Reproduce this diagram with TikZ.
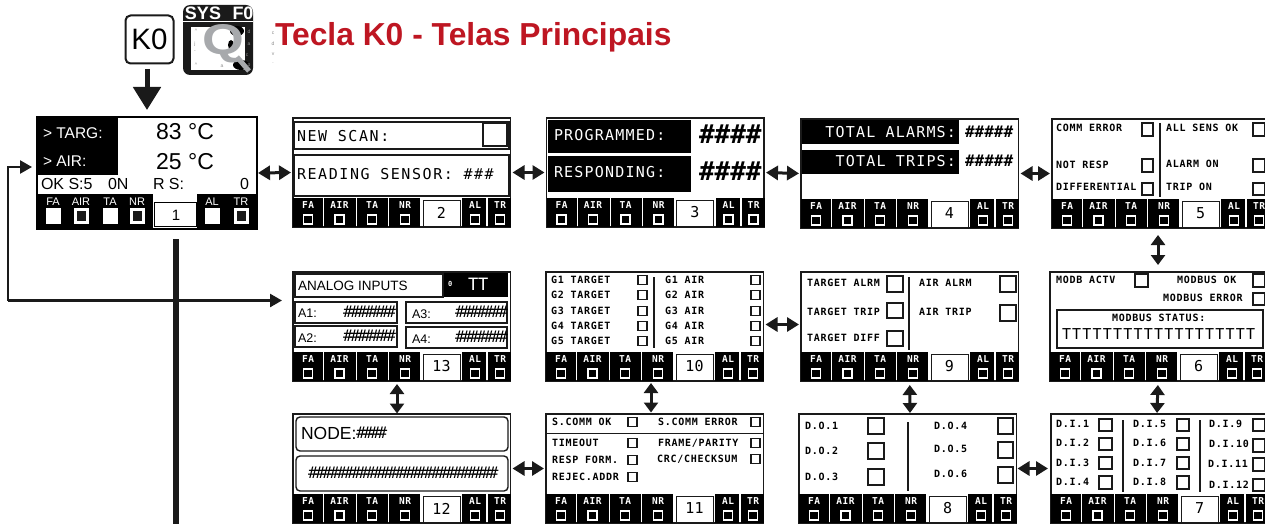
\documentclass[tikz,border=0pt]{standalone}
\usepackage{fontspec}
\setmainfont{Liberation Sans}
\newfontfamily\pixs{DejaVu Sans Mono}[LetterSpace=7.5]
\newfontfamily\pixb{DejaVu Sans Mono}[LetterSpace=6]
\newfontfamily\pixl{DejaVu Sans Mono}[LetterSpace=8]
\newfontfamily\pixw{DejaVu Sans Mono}[LetterSpace=10.5]
\newfontfamily\pixt{DejaVu Sans Mono}[LetterSpace=-15]
\newfontfamily\pixn{DejaVu Sans Mono}
\usetikzlibrary{arrows.meta}
\definecolor{ink}{HTML}{1A1A1A}
\definecolor{titlered}{HTML}{BE1622}
\definecolor{qgrey}{HTML}{A7A9AC}
\newcounter{lb}
\tikzset{
  panel/.style={draw=ink,line width=1.5pt,fill=white,inner sep=0pt,outer sep=0pt,anchor=north west,minimum width=217.5pt,minimum height=109pt},
  txt/.style={inner sep=0pt,outer sep=0pt,text=black},
  small/.style={txt,anchor=west,font=\pixs\bfseries\fontsize{10}{11}\selectfont},
  large/.style={txt,anchor=west,font=\pixl\fontsize{15}{16}\selectfont},
  barlab/.style={txt,text=white,font=\pixb\bfseries\fontsize{9.5}{10}\selectfont},
  numlab/.style={txt,font=\pixn\fontsize{15}{16}\selectfont},
  tight/.style={txt,anchor=west,font=\pixt\fontsize{16}{17}\selectfont},
  sans/.style={txt,anchor=west},
  tiny/.style={txt,text=black!45,font=\fontsize{5}{5}\selectfont},
  chk/.style={draw=ink,line width=1.3pt},
  divider/.style={draw=ink,line width=1.6pt},
  frame/.style={draw=ink,line width=1.4pt,fill=white},
  dbl/.style={draw=ink,line width=3pt,{Triangle[length=12pt,width=14pt]}-{Triangle[length=12pt,width=14pt]},shorten <=2pt,shorten >=2pt},
  dblv/.style={draw=ink,line width=3pt,{Triangle[length=10pt,width=14pt]}-{Triangle[length=10pt,width=14pt]}},
  feed/.style={draw=ink,line width=2.5pt,-{Triangle[length=12pt,width=13pt]}},
}
\newcommand\lab[3][small]{\stepcounter{lb}\node[#1] (lb\arabic{lb}) at (#2) {#3};}
\newcommand\cbx[4]{\draw[chk] (#1,#2) rectangle (#3,#4);}
% name, left, top, number
\newcommand\screen[4]{%
  \node[panel] (#1) at (#2,#3) {};
  \foreach \a/\b/\t/\c in {0/30/FA/15,31/63/AIR/46.5,64/95/TA/79,96/127/NR/112,169/193/AL/182,195/218/TR/207}{
    \fill[black] (#2+\a,#3+80) rectangle (#2+\b,#3+109);
    \lab[barlab]{#2+\c,#3+87.5}{\t}
    \draw[white,line width=1.1pt,fill=black] (#2+\c-4.5,#3+97) rectangle (#2+\c+4.5,#3+106);
  }
  \draw[draw=ink,line width=1pt,fill=white] (#2+130,#3+82) rectangle (#2+167,#3+108);
  \lab[numlab]{#2+148.5,#3+94.5}{#4}
}
\begin{document}
\begin{tikzpicture}[x=1pt,y=-1pt]
\useasboundingbox (0,0) rectangle (1265,524);
\fill[white] (0,0) rectangle (1265,524);

% title and key
\node[txt,anchor=west,text=titlered,font=\bfseries\fontsize{31.8}{32}\selectfont] (title) at (275,37) {Tecla K0 - Telas Principais};
\node[draw=ink,line width=2pt,rounded corners=5pt,fill=white,minimum width=48pt,minimum height=48pt,inner sep=0pt,font=\fontsize{29.5}{30}\selectfont] (k0) at (149.5,39.5) {K0};
% icon
\fill[ink,rounded corners=7pt] (183,5) rectangle (253,75);
\draw[white,line width=1pt] (183,22) -- (253,22);
\lab[{txt,text=white,font=\bfseries\fontsize{18}{18}\selectfont}]{203,13}{SYS}
\lab[{txt,text=white,font=\bfseries\fontsize{18}{18}\selectfont}]{243,13}{F0}
\fill[white] (191,27) rectangle (245,70);
\fill[black] (237,31) ellipse (7 and 5);
\fill[black] (231,45) ellipse (3 and 5);
\fill[black] (241,65) ellipse (8 and 5);
\lab[{txt,text=qgrey,xscale=1.25,font=\bfseries\fontsize{43}{43}\selectfont}]{223,44}{Q}
\draw[qgrey,line width=5pt] (237,57) -- (249,71);
\lab[tiny]{196,31}{\^{}}\lab[tiny]{195,44}{j}\lab[tiny]{195,52}{-}\lab[tiny]{196,65}{\^{}}\lab[tiny]{222,66}{a}
\lab[tiny]{249,32}{d}\lab[tiny]{249,44}{a}\lab[tiny]{247,55}{c}\lab[tiny]{249,66}{p}
\lab[tiny]{273,33}{c}\lab[tiny]{273,44}{d}\lab[tiny]{273,54}{v}\lab[tiny]{273,63}{.}

% screen 1
\node[panel,draw=black,line width=2pt,minimum width=220pt,minimum height=112pt] (p1) at (37,117) {};
\fill[black] (37,117) rectangle (118,175);
\fill[black] (37,194) rectangle (153,229.5);
\fill[black] (197,194) rectangle (257,229.5);
\lab[{sans,text=white,font=\fontsize{15.5}{16}\selectfont}]{43,133}{> TARG:}
\lab[{sans,text=white,font=\fontsize{15.5}{16}\selectfont}]{43,161}{> AIR:}
\lab[{txt,font=\fontsize{23}{24}\selectfont}]{185,132}{83 °C}
\lab[{txt,font=\fontsize{23}{24}\selectfont}]{185,162}{25 °C}
\lab[{sans,font=\fontsize{16}{17}\selectfont}]{41,184}{OK S:5}
\lab[{sans,font=\fontsize{16}{17}\selectfont}]{108,184}{0N}
\lab[{sans,font=\fontsize{16}{17}\selectfont}]{153,184}{R S:}
\lab[{sans,font=\fontsize{16}{17}\selectfont}]{240,184}{0}
\foreach \c/\t/\d in {53/FA/0,81/AIR/1,110/TA/0,137/NR/1,212/AL/0,241/TR/1}{
  \lab[{txt,text=white,font=\fontsize{11}{12}\selectfont}]{\c,202}{\t}
  \fill[white] (\c-7.5,208) rectangle (\c+7.5,223.5);
  \ifnum\d=1 \fill[ink] (\c-4.5,211) rectangle (\c+4.5,220.5);\fi
}
\draw[draw=black,line width=1pt,fill=white] (154.5,202) rectangle (196,226);
\lab[{txt,font=\fontsize{15}{16}\selectfont}]{176,215}{1}

% screen 2
\screen{p2}{293}{118}{2}
\draw[frame] (294.5,122) rectangle (509,149);
\draw[frame] (294.5,155) rectangle (509,196);
\cbx{483}{123}{507}{146}
\lab[{large,font=\pixw\fontsize{15}{16}\selectfont}]{297,136}{NEW SCAN:}
\lab[{large,font=\pixw\fontsize{15}{16}\selectfont}]{297,174}{READING SENSOR: \#\#\#}

% screen 3
\screen{p3}{546.5}{118}{3}
\fill[black] (548,120) rectangle (691,153);
\fill[black] (548,156) rectangle (691,192);
\lab[{large,text=white}]{554,135}{PROGRAMMED:}
\lab[{large,text=white}]{554,172}{RESPONDING:}
\lab[{txt,anchor=west,font=\pixn\bfseries\fontsize{26}{27}\selectfont}]{699,134}{\#\#\#\#}
\lab[{txt,anchor=west,font=\pixn\bfseries\fontsize{26}{27}\selectfont}]{699,171}{\#\#\#\#}

% screen 4
\screen{p4}{801}{119}{4}
\fill[black] (802,120) rectangle (959,144);
\fill[black] (802,150) rectangle (959,174);
\lab[{large,text=white,anchor=east}]{956,132}{TOTAL ALARMS:}
\lab[{large,text=white,anchor=east}]{956,161}{TOTAL TRIPS:}
\lab[{large,font=\pixn\bfseries\fontsize{16}{17}\selectfont}]{965,132}{\#\#\#\#\#}
\lab[{large,font=\pixn\bfseries\fontsize{16}{17}\selectfont}]{965,161}{\#\#\#\#\#}

% screen 5
\screen{p5}{1052}{119}{5}
\lab{1056,128}{COMM ERROR}\lab{1056,165}{NOT RESP}\lab{1056,187}{DIFFERENTIAL}
\cbx{1142}{123}{1153}{136}\cbx{1142}{159}{1153}{172}\cbx{1142}{183}{1153}{195}
\draw[divider] (1160,123) -- (1160,197);
\lab{1166,128}{ALL SENS OK}\lab{1166,164}{ALARM ON}\lab{1166,187}{TRIP ON}
\cbx{1253}{123}{1265}{136}\cbx{1253}{159}{1265}{172}\cbx{1253}{183}{1265}{195}

% screen 13
\screen{p13}{293}{272}{13}
\fill[black] (443,273) rectangle (508,297);
\draw[frame,fill=none] (295,274) rectangle (443,297);
\lab[{sans,font=\fontsize{13.5}{14}\selectfont}]{298,286}{ANALOG INPUTS}
\lab[{small,text=white,font=\pixs\bfseries\fontsize{7}{8}\selectfont}]{448,284}{0}
\lab[{large,text=white,font=\pixn\fontsize{17}{18}\selectfont}]{468,284}{TT}
\draw[frame] (295,302) rectangle (397,323);
\draw[frame] (406,302) rectangle (507,323);
\draw[frame] (295,326) rectangle (397,347);
\draw[frame] (406,327) rectangle (507,348);
\lab[{sans,font=\fontsize{12.5}{13}\selectfont}]{298,313}{A1:}
\lab[{sans,font=\fontsize{12.5}{13}\selectfont}]{298,338}{A2:}
\lab[{sans,font=\fontsize{12.5}{13}\selectfont}]{412,314}{A3:}
\lab[{sans,font=\fontsize{12.5}{13}\selectfont}]{412,339}{A4:}
\lab[tight]{343,312}{\#\#\#\#\#\#\#}
\lab[tight]{343,336}{\#\#\#\#\#\#\#}
\lab[tight]{455,312}{\#\#\#\#\#\#\#}
\lab[tight]{455,337}{\#\#\#\#\#\#\#}

% screen 10
\screen{p10}{546}{272}{10}
\foreach \n/\yy in {1/280,2/295,3/311,4/326,5/341}{
  \lab{551,\yy}{G\n{} TARGET}
  \lab{665,\yy}{G\n{} AIR}
  \cbx{638}{\yy-4.5}{647}{\yy+4.5}
  \cbx{751}{\yy-4.5}{760}{\yy+4.5}
}
\draw[divider] (654,277) -- (654,348);

% screen 9
\screen{p9}{801}{272}{9}
\lab{807,283}{TARGET ALRM}\lab{807,312}{TARGET TRIP}\lab{807,338}{TARGET DIFF}
\cbx{887}{276}{903}{292}\cbx{887}{303}{903}{318}\cbx{887}{331}{903}{346}
\draw[divider] (909,277) -- (909,350);
\lab{919,283}{AIR ALRM}\lab{919,312}{AIR TRIP}
\cbx{1000}{276}{1016}{292}\cbx{1000}{305}{1016}{321}

% screen 6
\screen{p6}{1050}{272}{6}
\lab{1056,280}{MODB ACTV}\lab{1177,280}{MODBUS OK}\lab{1163,298}{MODBUS ERROR}
\cbx{1135}{274}{1148}{287}\cbx{1253}{274}{1265}{287}\cbx{1253}{293}{1265}{305}
\draw[frame] (1057,310) rectangle (1263,348);
\lab{1112,318}{MODBUS STATUS:}
\lab[large]{1062,334}{TTTTTTTTTTTTTTTTTTT}

% screen 12
\screen{p12}{293}{414}{12}
\draw[frame,rounded corners=4pt] (296,417) rectangle (508,451);
\draw[frame,rounded corners=4pt] (296,456) rectangle (508,491);
\lab[{sans,font=\fontsize{17.5}{18}\selectfont}]{301,433}{NODE:}
\lab[tight]{356,433}{\#\#\#\#}
\lab[tight]{308,473}{\#\#\#\#\#\#\#\#\#\#\#\#\#\#\#\#\#\#\#\#\#\#\#\#\#\#}

% screen 11
\screen{p11}{546}{414}{11}
\lab{552,422}{S.COMM OK}\lab{658,422}{S.COMM ERROR}
\draw[draw=ink,line width=1pt] (546,433) -- (764,433);
\lab{552,443}{TIMEOUT}\lab{552,460}{RESP FORM.}\lab{552,477}{REJEC.ADDR}
\lab{658,443}{FRAME/PARITY}\lab{657,459}{CRC/CHECKSUM}
\foreach \yy in {422,443,460,477}{\cbx{628}{\yy-4.5}{637}{\yy+4.5}}
\foreach \yy in {422,443,459}{\cbx{751}{\yy-4.5}{760}{\yy+4.5}}

% screen 8
\screen{p8}{799}{414}{8}
\lab{805,426}{D.O.1}\lab{805,451}{D.O.2}\lab{805,477}{D.O.3}
\lab{934,426}{D.O.4}\lab{934,449}{D.O.5}\lab{934,474}{D.O.6}
\cbx{868}{418}{884}{434}\cbx{868}{443}{884}{459}\cbx{868}{469}{884}{485}
\cbx{998}{418}{1013}{434}\cbx{998}{442}{1013}{458}\cbx{998}{467}{1013}{483}
\draw[divider] (908,422) -- (908,491);

% screen 7
\screen{p7}{1051}{414}{7}
\lab{1056,424}{D.I.1}\lab{1056,443}{D.I.2}\lab{1056,463}{D.I.3}\lab{1056,482}{D.I.4}
\lab{1133,424}{D.I.5}\lab{1133,443}{D.I.6}\lab{1133,463}{D.I.7}\lab{1133,482}{D.I.8}
\lab{1209,424}{D.I.9}\lab{1209,444}{D.I.10}\lab{1208,464}{D.I.11}\lab{1209,485}{D.I.12}
\foreach \ya/\yb in {419/431,438/450,457/469,476/489}{\cbx{1099}{\ya}{1112}{\yb}\cbx{1177}{\ya}{1189}{\yb}}
\foreach \ya/\yb in {419/431,439/452,458/471,479/491}{\cbx{1253}{\ya}{1265}{\yb}}
\draw[divider] (1123,420) -- (1123,492);
\draw[divider] (1200,420) -- (1200,492);

% connectors
\draw[draw=ink,line width=5pt,-{Triangle[length=23pt,width=27pt]}] ([xshift=-2.5pt,yshift=-4.5pt]k0.south) -- ([yshift=7pt]p1.north);
\draw[dbl,shorten <=1pt] (p1.east) -- (p2.west);
\draw[dbl] (p2.east) -- (p3.west);
\draw[dbl] (p3.east) -- (p4.west);
\draw[dbl] (p4.east) -- (p5.west);
\draw[dblv,shorten <=7pt,shorten >=7pt] ([xshift=-2.75pt]p5.south) -- ([xshift=-0.75pt]p6.north);
\draw[dblv,shorten <=4pt,shorten >=1pt] ([xshift=-0.75pt]p6.south) -- ([xshift=-2.75pt]p7.north);
\draw[dblv,shorten <=4pt,shorten >=1pt] (p9.south) -- ([xshift=2.25pt]p8.north);
\draw[dblv,shorten <=2pt,shorten >=1.5pt] ([xshift=-3.75pt]p10.south) -- ([xshift=-3.75pt]p11.north);
\draw[dblv,shorten <=3pt,shorten >=0.5pt] ([xshift=-4.75pt]p13.south) -- ([xshift=-4.75pt]p12.north);
\draw[dbl] ([yshift=2pt]p9.west) -- ([yshift=2pt]p10.east);
\draw[dbl,shorten <=1pt,shorten >=3pt] (p8.east) -- (p7.west);
\draw[dbl] (p12.east) -- (p11.west);
\coordinate (jn) at (8,300.5);
\coordinate (lineend) at (176,524);
\draw[feed] (jn) |- ([yshift=6pt,xshift=-5pt]p1.west);
\draw[feed] (jn) -- ([yshift=26pt,xshift=-11pt]p13.west);
\draw[draw=ink,line width=5.5pt] ([xshift=29pt,yshift=-10pt]p1.south) -- (lineend);
\end{tikzpicture}
\end{document}
